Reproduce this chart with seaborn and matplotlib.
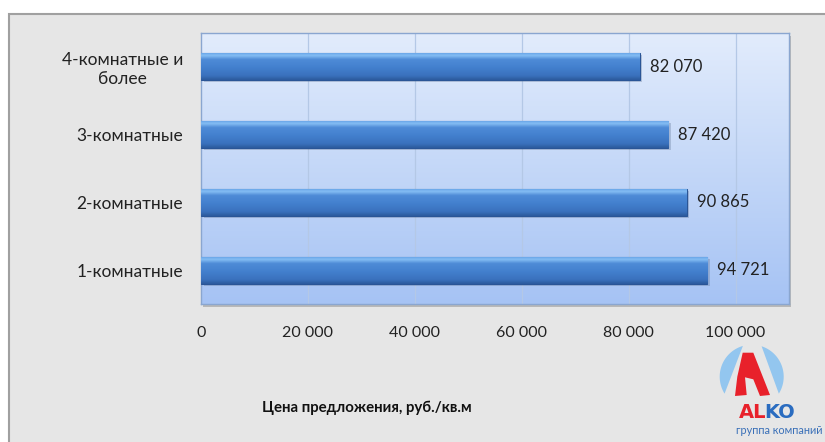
import numpy as np
import pandas as pd
import matplotlib
matplotlib.use("Agg")
import matplotlib.pyplot as plt
import seaborn as sns
from matplotlib.patches import Rectangle, Polygon
from matplotlib.colors import LinearSegmentedColormap

categories = ["4-комнатные и\nболее", "3-комнатные", "2-комнатные", "1-комнатные"]
values = [82070, 87420, 90865, 94721]
value_labels = ["82 070", "87 420", "90 865", "94 721"]
tick_values = [0, 20000, 40000, 60000, 80000, 100000]
tick_labels = ["0", "20 000", "40 000", "60 000", "80 000", "100 000"]
x_title = "Цена предложения, руб./кв.м"

sns.set_theme(style="white")
plt.rcParams["font.family"] = ["Lato", "DejaVu Sans"]

W, H = 825, 442
fig = plt.figure(figsize=(W / 100, H / 100), dpi=100)
fig.patch.set_facecolor("white")

# outer gray frame
frame = Rectangle((9 / W, -0.01), 1.02 - 9 / W, 1 - 14 / H + 0.01, transform=fig.transFigure,
                  facecolor="#e6e6e6", edgecolor="#a0a0a0", linewidth=1.5, zorder=-5)
fig.add_artist(frame)

# plot-area shadow
shadow = Rectangle((203 / W, 1 - 307 / H), (789 - 201) / W, (304 - 33) / H,
                   transform=fig.transFigure, facecolor="#b8b8b8", edgecolor="none", zorder=-4)
fig.add_artist(shadow)

ax = fig.add_axes([201 / W, 1 - 304 / H, (789 - 201) / W, (304 - 33) / H])
ax.set_zorder(1)
df = pd.DataFrame({"cat": categories, "val": values})
sns.barplot(data=df, y="cat", x="val", orient="h", color="#3f7cca", width=0.4,
            ax=ax, zorder=3, edgecolor="#2a5596", linewidth=0.8)

# background gradient
grad = np.linspace(0, 1, 256).reshape(-1, 1)
bg_cmap = LinearSegmentedColormap.from_list("bg", ["#e2ecfc", "#a6c3f4"])
ax.imshow(grad, extent=(0, 110000, 3.5, -0.5), aspect="auto", cmap=bg_cmap,
          zorder=0, interpolation="bicubic")

# bar gradient
bar_cmap = LinearSegmentedColormap.from_list(
    "bar", [(0.0, "#5d9be3"), (0.12, "#86bff4"), (0.26, "#4e8bd7"),
            (0.55, "#4380ce"), (0.85, "#3a71bd"), (1.0, "#2c5a9c")])
for p in list(ax.patches):
    x0, y0 = p.get_x(), p.get_y()
    w, h = p.get_width(), p.get_height()
    im = ax.imshow(np.linspace(0, 1, 128).reshape(-1, 1),
                   extent=(x0, x0 + w, y0 + h, y0), aspect="auto",
                   cmap=bar_cmap, zorder=3.5, interpolation="bicubic")
    im.set_clip_path(p)
    sh = Rectangle((x0 + 500, y0 + 0.03), w, h, facecolor="#5a6f90", alpha=0.3,
                   edgecolor="none", zorder=2.5)
    ax.add_patch(sh)
ax.set_xlim(0, 110000)
ax.set_ylim(3.5, -0.5)

for i, (v, lab) in enumerate(zip(values, value_labels)):
    ax.text(v + 1900, i, lab, va="center", ha="left", fontsize=12,
            color="#222222", zorder=5)

ax.set_xticks(tick_values)
ax.set_xticklabels(tick_labels, fontsize=11.5, color="#222222")
ax.tick_params(axis="x", length=0, pad=16)
ax.tick_params(axis="y", length=0, pad=13, labelsize=12.5, labelcolor="#222222")
for lab in ax.get_yticklabels():
    lab.set_multialignment("center")
ax.set_xlabel("")
ax.set_ylabel("")
for x in tick_values[1:]:
    ax.axvline(x, color="#b4c8e6", linewidth=0.9, zorder=1)
for s in ax.spines.values():
    s.set_color("#8aa6d0")
    s.set_linewidth(1.0)

fig.text(262 / W, 1 - 408 / H, x_title, fontsize=10.8, fontweight="bold",
         color="#111111", va="center", ha="left", zorder=2)

# logo (coordinates in pixels relative to the logo box)
lx = fig.add_axes([700 / W, 0, 125 / W, 102 / H])
lx.set_zorder(2)
lx.set_xlim(0, 125)
lx.set_ylim(0, 102)
lx.axis("off")
cx, cy, r = 51.7, 65.3, 32.0

def segment(a0, a1):
    t = np.radians(np.linspace(a0, a1, 40))
    return np.column_stack([cx + r * np.cos(t), cy + r * np.sin(t)])

lx.add_patch(Polygon(segment(106, 212), closed=True, facecolor="#93c6ef", edgecolor="none"))
lx.add_patch(Polygon(segment(-32, 72), closed=True, facecolor="#93c6ef", edgecolor="none"))
lx.add_patch(Polygon([(42.7, 89.3), (53.3, 89.3), (70, 47), (60, 46), (53.3, 62.7),
                      (45, 64.7), (46.7, 47), (35, 46), (37.3, 65.3)],
                     closed=True, facecolor="#e8212b", edgecolor="none"))
lx.text(39, 30, "AL", fontsize=14, fontweight="bold", color="#e8212b",
        ha="left", va="center", family="DejaVu Sans")
lx.text(64, 30, "KO", fontsize=14, fontweight="bold", color="#2a6cc0",
        ha="left", va="center", family="DejaVu Sans")
lx.text(36, 11, "группа компаний", fontsize=7.8, color="#3a70b8", ha="left", va="center")

fig.savefig("out.png", dpi=100, facecolor=fig.get_facecolor())
